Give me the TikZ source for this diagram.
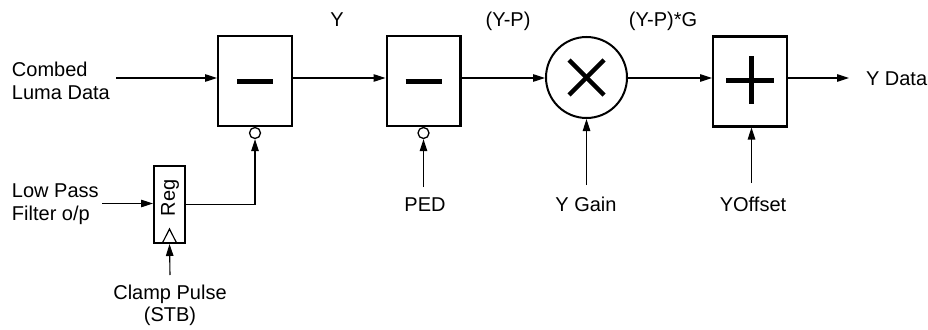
\documentclass[tikz,border=0pt]{standalone}
\usepackage{fontspec}
\setmainfont{Liberation Sans}
\usetikzlibrary{arrows.meta,calc}
\begin{document}
\begin{tikzpicture}[x=1pt,y=-1pt,
  every node/.style={inner sep=0pt,outer sep=0pt,font=\fontsize{20}{23.5}\selectfont},
  opbox/.style={draw,line width=2.4pt,minimum width=73.6pt,minimum height=89.6pt,outer sep=1.2pt},
  regbox/.style={draw,line width=2.4pt,minimum width=30.6pt,minimum height=76.6pt,outer sep=1.2pt},
  mulcirc/.style={draw,circle,line width=2pt,minimum size=81pt,outer sep=1pt},
  bubble/.style={draw,circle,line width=1.3pt,minimum size=11pt,fill=white,outer sep=0.65pt},
  sym/.style={line width=5pt},
  arr/.style={line width=1.1pt,-{Triangle[length=12pt,width=7.5pt]}},
  lbl/.style={anchor=base}
]
\useasboundingbox (0,0) rectangle (928,329);
\coordinate (lvl) at (0,78);

% blocks
\node[opbox] (box1) at (255,81) {};
\node[opbox] (box2) at (423.5,81) {};
\node[mulcirc] (mul) at (586.5,77.5) {};
\node[opbox] (plus) at (750,81.5) {};
\node[regbox] (reg) at (169.5,204.5) {};
\node[rotate=90] (regtxt) at (170,198) {Reg};
\node[bubble] (bub1) at (255,133) {};
\node[bubble] (bub2) at (423.5,133) {};

% symbols
\draw[sym] ($(box1.center)+(-18,0)$) -- ($(box1.center)+(18,0)$);
\draw[sym] ($(box2.center)+(-18,0)$) -- ($(box2.center)+(18,0)$);
\draw[line width=4.5pt] ($(mul.center)+(-17.5,-17.5)$) -- ($(mul.center)+(17.5,17.5)$);
\draw[line width=4.5pt] ($(mul.center)+(-17.5,17.5)$) -- ($(mul.center)+(17.5,-17.5)$);
\draw[sym] ($(plus.center)+(-24,-1.5)$) -- ($(plus.center)+(24,-1.5)$);
\draw[sym] ($(plus.center)+(1,-25)$) -- ($(plus.center)+(1,22)$);
% clock triangle
\draw[line width=1.2pt] ($(reg.south)+(-7,-1.2)$) -- ($(reg.south)+(0,-15)$) -- ($(reg.south)+(7,-1.2)$);

% labels
\node[anchor=west,align=left] (combed) at (12,81) {Combed\\Luma Data};
\node[anchor=west,align=left] (lpf) at (12,204) {Low Pass\\Filter o/p};
\node[align=center,font=\fontsize{20}{22}\selectfont] (clamp) at (170,305) {Clamp Pulse\\(STB)};
\node[lbl] (ylbl) at (337,27) {Y};
\node[lbl] (yplbl) at (508,27) {(Y-P)};
\node[lbl] (ypglbl) at (663,27) {(Y-P)*G};
\node[lbl] (ped) at (425,211) {PED};
\node[lbl] (ygain) at (586,211) {Y Gain};
\node[lbl] (yoff) at (753,211) {YOffset};
\node[anchor=base west] (ydata) at (866,85) {Y Data};

% free ends
\coordinate (cin) at (116,78);
\coordinate (lpfin) at (102,203.5);
\coordinate (clampin) at (170,275);
\coordinate (pedin) at (423.5,187);
\coordinate (gainin) at (586.5,185);
\coordinate (offin) at (751.5,183);
\coordinate (yout) at (849,78);

% connectors
\draw[arr] (cin) -- (box1.west |- lvl);
\draw[arr] (box1.east |- lvl) -- (box2.west |- lvl);
\draw[arr] (box2.east |- lvl) -- (mul.west |- lvl);
\draw[arr] (mul.east |- lvl) -- (plus.west |- lvl);
\draw[arr] (plus.east |- lvl) -- (yout);
\draw[arr] (lpfin) -- (reg.west |- lpfin);
\draw[arr] (clampin) -- (reg.south);
\draw[arr] (reg.east) -| (bub1.south);
\draw[arr] (pedin) -- (bub2.south);
\draw[arr] (gainin) -- (mul.south);
\draw[arr] (offin) -- (plus.south -| offin);
\end{tikzpicture}
\end{document}
